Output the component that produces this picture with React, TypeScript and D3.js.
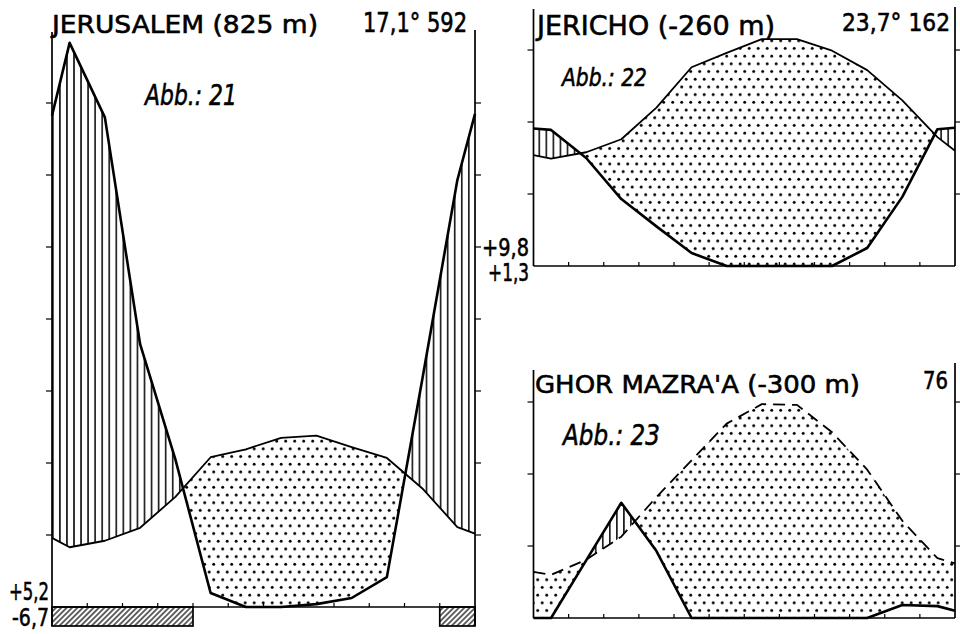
import React from "react";
import * as d3 from "d3";

// ---------- data ----------
const monthIdx = d3.range(12);

// Jerusalem (825 m) – 17,1° 592 mm
const jerusalemTemp = [8.3, 9.2, 11.0, 15.3, 20.8, 21.9, 23.5, 23.8, 22.2, 20.7, 16.5, 11.1];
const jerusalemTempEdges = [9.6, 10.2];
const jerusalemPrecip = [156.7, 136, 73, 41, 3.9, 0, 0, 0.8, 2.5, 8.3, 63, 118.6];
const jerusalemPrecipEdges = [136.5, 137];
const jerusalemFrostMonths = [0, 1, 2, 3, 11];

// Jericho (-260 m) – 23,7° 162 mm
const jerichoTemp = [14.9, 15.8, 17.6, 22.0, 27.6, 29.6, 31.5, 31.5, 29.9, 27.2, 23.0, 17.9];
const jerichoTempEdges = [15.4, 16.0];
const jerichoPrecip = [37.8, 30, 18.6, 11, 3.6, 0, 0, 0, 0, 5, 19.2, 38];
const jerichoPrecipEdges = [38.2, 38.4];

// Ghor Mazra'a (-300 m) – 76 mm (temperature curve dashed)
const ghorTemp = [6.0, 8.1, 11.3, 16.8, 21.9, 27.0, 29.7, 29.6, 25.8, 20.6, 13.5, 8.3];
const ghorTempEdges = [6.4, 7.6];
const ghorPrecip = [0, 16, 32, 18.6, 0, 0, 0, 0, 0, 0, 3.6, 3.3];
const ghorPrecipEdges = [0, 2.0];

// axis tick values
const jerusalemTempTicks = [10, 20, 30, 40, 50, 60, 70];
const jerusalemPrecipTicks = [20, 40, 60, 80, 100, 120, 140];
const smallTempTicks = [10, 20, 30];
const smallPrecipTicks = [20, 40, 60];

// ---------- layout ----------
const TEMP_PX = 7.2; // px per °C (10 °C = 20 mm)

type Panel = {
  left: number; right: number; base: number;
  topL: number; topR: number; bottomL: number; bottomR: number;
};

const P1: Panel = { left: 52, right: 475, base: 607, topL: 32, topR: 30, bottomL: 626, bottomR: 626 };
const P2: Panel = { left: 533.5, right: 955, base: 266, topL: 9, topR: 7, bottomL: 266, bottomR: 266 };
const P3: Panel = { left: 533.5, right: 955, base: 618, topL: 370, topR: 363, bottomL: 618, bottomR: 618 };

function makeScales(p: Panel) {
  const x = d3.scaleLinear().domain([0, 12]).range([p.left, p.right]);
  const yT = d3.scaleLinear().domain([0, 10]).range([p.base, p.base - 10 * TEMP_PX]);
  const yP = d3.scaleLinear().domain([0, 20]).range([p.base, p.base - 10 * TEMP_PX]);
  return { x, yT, yP };
}

function pts(values: number[], edges: number[], x: any, y: any): [number, number][] {
  const out: [number, number][] = [[x(0), y(edges[0])]];
  values.forEach((v, i) => out.push([x(monthIdx[i] + 0.5), y(v)]));
  out.push([x(12), y(edges[1])]);
  return out;
}

const line = d3.line<[number, number]>().x((d) => d[0]).y((d) => d[1]);

function areaTo(yEdge: number) {
  return d3
    .area<[number, number]>()
    .x((d) => d[0])
    .y0(yEdge)
    .y1((d) => d[1]);
}

// group contiguous months into [start, end) runs
function runs(months: number[]): [number, number][] {
  const sorted = [...months].sort((a, b) => a - b);
  const out: [number, number][] = [];
  sorted.forEach((m) => {
    const last = out[out.length - 1];
    if (last && last[1] === m) last[1] = m + 1;
    else out.push([m, m + 1]);
  });
  return out;
}

const FONT = "'DejaVu Sans', 'Liberation Sans', sans-serif";

function Label(props: { x: number; y: number; size: number; len: number; italic?: boolean; children: any }) {
  return (
    <text
      x={props.x}
      y={props.y}
      fontSize={props.size}
      fontFamily={FONT}
      fontStyle={props.italic ? "italic" : "normal"}
      textLength={props.len}
      lengthAdjust="spacingAndGlyphs"
      fill="#000"
      stroke="#000"
      strokeWidth={0.6}
    >
      {props.children}
    </text>
  );
}

function ClimatePanel(props: {
  id: string;
  p: Panel;
  temp: number[];
  tempEdges: number[];
  precip: number[];
  precipEdges: number[];
  tempTicks: number[];
  precipTicks: number[];
  dashedTemp?: boolean;
  frost?: number[];
}) {
  const { id, p } = props;
  const { x, yT, yP } = makeScales(p);
  const tPts = pts(props.temp, props.tempEdges, x, yT);
  const pPts = pts(props.precip, props.precipEdges, x, yP);
  const top = Math.min(p.topL, p.topR) - 20;

  const aboveTemp = areaTo(top)(tPts) as string;
  const belowTemp = areaTo(p.base)(tPts) as string;
  const abovePrecip = areaTo(top)(pPts) as string;
  const belowPrecip = areaTo(p.base)(pPts) as string;

  const boundaries = d3.range(1, 12);

  return (
    <g>
      <defs>
        <clipPath id={`${id}-belowP`}>
          <path d={belowPrecip} />
        </clipPath>
        <clipPath id={`${id}-aboveP`}>
          <path d={abovePrecip} />
        </clipPath>
      </defs>
      {/* arid (dotted) */}
      <path d={belowTemp} fill="url(#dots)" clipPath={`url(#${id}-aboveP)`} />
      {/* humid (vertical hatch) */}
      <path d={aboveTemp} fill="url(#vhatch)" clipPath={`url(#${id}-belowP)`} />

      {/* frost months */}
      {runs(props.frost || []).map(([a, b]) => (
        <rect
          key={a}
          x={x(a)}
          y={p.base}
          width={x(b) - x(a)}
          height={19}
          fill="url(#dhatch)"
          stroke="#000"
          strokeWidth={1.7}
        />
      ))}

      {/* frame */}
      <line x1={p.left} x2={p.left} y1={p.topL} y2={p.bottomL} stroke="#000" strokeWidth={1.7} />
      <line x1={p.right} x2={p.right} y1={p.topR} y2={p.bottomR} stroke="#000" strokeWidth={1.7} />
      <line x1={p.left} x2={p.right} y1={p.base} y2={p.base} stroke="#000" strokeWidth={1.7} />
      {boundaries.map((b) => (
        <line key={b} x1={x(b)} x2={x(b)} y1={p.base} y2={p.base - 4} stroke="#000" strokeWidth={1.2} />
      ))}
      {props.tempTicks.map((t) => (
        <line key={"t" + t} x1={p.left - 6} x2={p.left} y1={yT(t)} y2={yT(t)} stroke="#000" strokeWidth={1.2} />
      ))}
      {props.precipTicks.map((t) => (
        <line key={"p" + t} x1={p.right} x2={p.right + 6} y1={yP(t)} y2={yP(t)} stroke="#000" strokeWidth={1.2} />
      ))}

      {/* curves */}
      <path
        d={line(tPts) as string}
        fill="none"
        stroke="#000"
        strokeWidth={1.8}
        strokeDasharray={props.dashedTemp ? "12 7" : undefined}
        strokeLinejoin="round"
      />
      <path d={line(pPts) as string} fill="none" stroke="#000" strokeWidth={2.6} strokeLinejoin="round" />
    </g>
  );
}

export default function App() {
  return (
    <svg
      width={960}
      height={634}
      viewBox="0 0 960 634"
      style={{ position: "absolute", left: 0, top: 0, background: "#fff" }}
    >
      <defs>
        <pattern id="dots" patternUnits="userSpaceOnUse" width={9} height={15.4}>
          <circle cx={2.2} cy={2.2} r={1.45} fill="#000" />
          <circle cx={6.7} cy={9.9} r={1.45} fill="#000" />
        </pattern>
        <pattern id="vhatch" patternUnits="userSpaceOnUse" width={7.05} height={10}>
          <line x1={3.5} x2={3.5} y1={0} y2={10} stroke="#000" strokeWidth={1.5} />
        </pattern>
        <pattern id="dhatch" patternUnits="userSpaceOnUse" width={3.8} height={10} patternTransform="rotate(45)">
          <line x1={1.9} x2={1.9} y1={0} y2={10} stroke="#000" strokeWidth={1.2} />
        </pattern>
      </defs>
      <rect x={0} y={0} width={960} height={634} fill="#fff" />

      <ClimatePanel
        id="jer"
        p={P1}
        temp={jerusalemTemp}
        tempEdges={jerusalemTempEdges}
        precip={jerusalemPrecip}
        precipEdges={jerusalemPrecipEdges}
        tempTicks={jerusalemTempTicks}
        precipTicks={jerusalemPrecipTicks}
        frost={jerusalemFrostMonths}
      />
      <ClimatePanel
        id="jch"
        p={P2}
        temp={jerichoTemp}
        tempEdges={jerichoTempEdges}
        precip={jerichoPrecip}
        precipEdges={jerichoPrecipEdges}
        tempTicks={smallTempTicks}
        precipTicks={smallPrecipTicks}
      />
      <ClimatePanel
        id="ghor"
        p={P3}
        temp={ghorTemp}
        tempEdges={ghorTempEdges}
        precip={ghorPrecip}
        precipEdges={ghorPrecipEdges}
        tempTicks={smallTempTicks}
        precipTicks={smallPrecipTicks}
        dashedTemp
      />

      {/* texts */}
      <Label x={52} y={33} size={25} len={266}>JERUSALEM (825 m)</Label>
      <Label x={363} y={32} size={26} len={104}>17,1° 592</Label>
      <Label x={145} y={105} size={28} len={92} italic>Abb.: 21</Label>

      <Label x={537} y={35} size={27} len={238}>JERICHO (-260 m)</Label>
      <Label x={842} y={31} size={25} len={108}>23,7° 162</Label>
      <Label x={562} y={86} size={24} len={85} italic>Abb.: 22</Label>

      <Label x={535} y={393} size={25} len={325}>GHOR MAZRA'A (-300 m)</Label>
      <Label x={923} y={389} size={24} len={25}>76</Label>
      <Label x={563} y={445} size={29} len={97} italic>Abb.: 23</Label>

      <Label x={9} y={600} size={25} len={40}>+5,2</Label>
      <Label x={12} y={626} size={25} len={37}>-6,7</Label>
      <Label x={482} y={256} size={25} len={47}>+9,8</Label>
      <Label x={488} y={281} size={25} len={41}>+1,3</Label>
    </svg>
  );
}
